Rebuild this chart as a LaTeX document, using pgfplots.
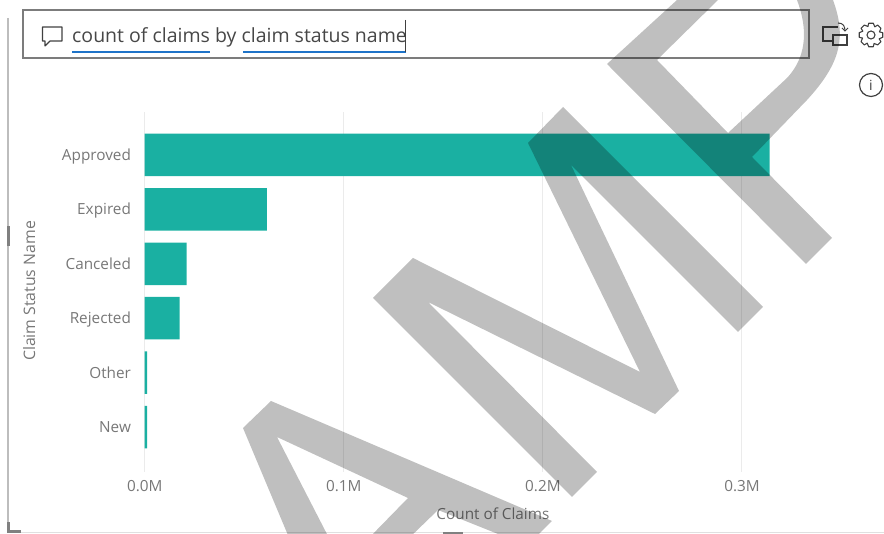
\documentclass[border=0pt]{standalone}
\usepackage{fontspec}
\setmainfont{Open Sans}
\usepackage{pgfplots}
\pgfplotsset{compat=1.18}
\definecolor{barteal}{HTML}{1AB0A2}
\definecolor{lab}{HTML}{777777}
\definecolor{boxc}{HTML}{7C7C7C}
\definecolor{blueu}{HTML}{1E73C8}
\definecolor{frame}{HTML}{BDBDBD}
\definecolor{icon}{HTML}{404040}
\begin{document}
\begin{tikzpicture}
\path[use as bounding box] (0,0) rectangle (884pt,534pt);
\begin{axis}[
  at={(144.7pt,62pt)}, anchor=south west,
  scale only axis, width=655pt, height=360pt,
  xmin=0, xmax=0.329, ymin=-0.827, ymax=5.79,
  xbar, bar width=42.5pt, bar shift=0pt,
  axis line style={draw=none}, tick style={draw=none},
  xmajorgrids, grid style={color=black!8,line width=1pt},
  xtick={0,0.1,0.2,0.3}, xticklabels={0.0M,0.1M,0.2M,0.3M},
  ytick={0,1,2,3,4,5}, yticklabels={New,Other,Rejected,Canceled,Expired,Approved},
  tick label style={font=\fontsize{15.3}{18}\selectfont,text=lab},
  xticklabel style={yshift=-5pt}, yticklabel style={xshift=-6pt,yshift=-3pt,text height=0.72em,text depth=0.2em},
  xlabel={Count of Claims}, ylabel={Claim Status Name},
  every axis x label/.style={at={(axis cs:0.1749,-1.6)},anchor=center,font=\fontsize{15.3}{18}\selectfont,text=lab},
  every axis y label/.style={at={(axis cs:-0.058,2.5)},anchor=center,rotate=90,font=\fontsize{15.8}{18}\selectfont,text=lab},
]
\addplot[fill=barteal,draw=none] coordinates {
 (0.0012,0) (0.0012,1) (0.0175,2) (0.021,3) (0.0614,4) (0.3139,5)};
\end{axis}
\begin{scope}[x=1pt,y=-1pt,yshift=534pt]
 % frame of the visual
 \draw[frame,line width=2pt] (8,18) -- (8,532);
 \draw[black!12,line width=1pt] (8,532.5) -- (884,532.5);
 \fill[black!50] (6.5,226) rectangle (10,246);
 \fill[black!50] (7,522) rectangle (10,533);
 \fill[black!50] (7,530) rectangle (21,533);
 \fill[black!50] (443,532) rectangle (463,534);
 % input box
 \draw[boxc,line width=2pt] (23,10.5) rectangle (808.5,58.5);
 \node[anchor=base west,inner sep=0pt,text=black!72,font=\fontsize{19.5}{23}\selectfont] at (72,43) {count of claims by claim status name};
 \draw[blueu,line width=2.6pt] (72,52) -- (210,52);
 \draw[blueu,line width=2.6pt] (243,52) -- (406,52);
 \draw[icon,line width=0.8pt] (405,20) -- (405,52);
 % comment icon
 \draw[icon,line width=1.1pt,line join=round] (42.5,27) -- (62,27) -- (62,41) -- (50,41) -- (45,46) -- (45,41) -- (42.5,41) -- cycle;
 % share icon
 \draw[icon,line width=1.2pt] (833,35) rectangle (847,45);
 \draw[icon,line width=1.2pt] (823,35) -- (823,27) -- (838,27);
 \draw[icon,line width=1.2pt] (823,35) -- (823,41) -- (833,41);
 \draw[icon,line width=1pt] (838,23) .. controls (843,23) and (845,26) .. (845,31);
 \draw[icon,line width=1pt] (842,28) -- (845,31) -- (848,28);
 % gear icon
 \begin{scope}[shift={(871,35)}]
  \draw[icon,line width=1.1pt] (0,0) circle[radius=4];
  \draw[icon,line width=1.1pt,line join=round]
   (-11:12)--(11:12)--(25:9)--(34:12)--(56:12)--(70:9)--(79:12)--(101:12)--(115:9)--(124:12)--(146:12)--(160:9)--(169:12)--(191:12)--(205:9)--(214:12)--(236:12)--(250:9)--(259:12)--(281:12)--(295:9)--(304:12)--(326:12)--(340:9)--cycle;
 \end{scope}
 % info icon
 \draw[icon,line width=1.2pt] (871,85) circle[radius=11.5];
 \node[text=icon,inner sep=0pt,font=\fontsize{14}{16}\selectfont] at (871,85) {i};
 % watermark
 \begin{scope}
 \clip (0,0) rectangle (884,534);
 \fill[black,opacity=0.25]
   (271,401) -- (552,521) -- (533,540) -- (513,540) -- (438,510) -- (407,540) -- (367,540) -- (408,498) -- (277,437) -- (330,540) -- (290,540) -- (243,428) -- cycle;
 \fill[black,opacity=0.25]
   (528,143) -- (563,107) -- (763,307) -- (738,332) -- (571,165) -- (679,391) -- (655,414) -- (428,302) -- (597,472) -- (572,497) -- (373,298) -- (413,258) -- (640,372) -- cycle;
 \fill[black,opacity=0.25]
   (607,64) -- (677,0) -- (718,0) -- (657,60) -- (728,133) -- (787,78) .. controls (800,64) and (812,40) .. (797,0) -- (833,0) .. controls (846,36) and (842,62) .. (807,100) -- (752,157) -- (832,238) -- (806,264) -- cycle;
 \end{scope}
\end{scope}
\end{tikzpicture}
\end{document}
